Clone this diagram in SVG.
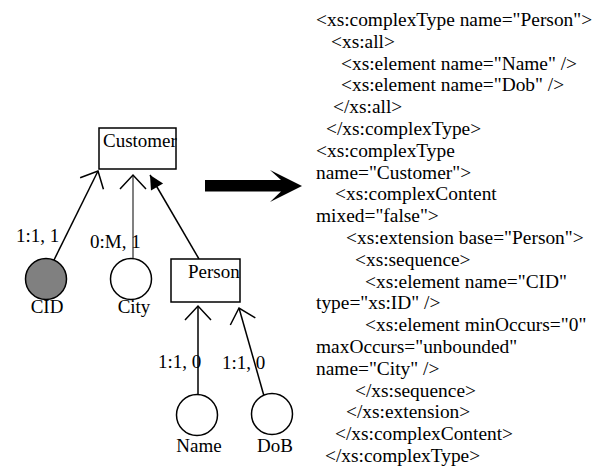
<svg xmlns="http://www.w3.org/2000/svg" width="602" height="470" viewBox="0 0 602 470">
<style>
text{font-family:"Liberation Serif","Times New Roman",serif;font-size:19px;fill:#000}
#xml text{font-size:19.4px}
.box{fill:#fff;stroke:#000;stroke-width:1.5}
.circ{fill:#fff;stroke:#000;stroke-width:1.5}
.edge{fill:none;stroke:#000;stroke-width:1.5}
.gray{stroke:#808080;stroke-width:2}
.mid{text-anchor:middle}
</style>
<defs>
<marker id="open" viewBox="-20 -16 24 32" markerWidth="24" markerHeight="32" refX="0" refY="0" orient="auto" markerUnits="userSpaceOnUse">
<path d="M-14,-13 L0,0 L-14,13" fill="none" stroke="#000" stroke-width="1.5"/>
</marker>
<marker id="tri" viewBox="-16 -10 18 20" markerWidth="18" markerHeight="20" refX="0" refY="0" orient="auto" markerUnits="userSpaceOnUse">
<path d="M0,0 L-14,-7 L-14,7 Z" fill="#000"/>
</marker>
</defs>
<g id="connectors">
<line class="edge" x1="53" y1="262" x2="98" y2="171" marker-end="url(#open)"/>
<line class="edge gray" x1="133" y1="258" x2="133" y2="175" marker-end="url(#open)"/>
<line class="edge" x1="199" y1="259" x2="150" y2="175" marker-end="url(#tri)"/>
<line class="edge" x1="198" y1="394" x2="198" y2="306" marker-end="url(#open)"/>
<line class="edge" x1="264" y1="396" x2="239" y2="308" marker-end="url(#open)"/>
</g>
<g id="customer">
<rect class="box" x="99" y="128" width="77" height="41"/>
<text x="103" y="147">Customer</text>
</g>
<g id="person">
<rect class="box" x="171" y="259" width="69" height="43"/>
<text x="188" y="278">Person</text>
</g>
<g id="cid">
<circle class="circ" cx="46" cy="279" r="20.5" style="fill:#808080"/>
<text class="mid" x="47" y="313">CID</text>
</g>
<g id="city">
<circle class="circ" cx="131" cy="279" r="20.5"/>
<text class="mid" x="134" y="313">City</text>
</g>
<g id="name">
<circle class="circ" cx="197" cy="415" r="20.5"/>
<text class="mid" x="199" y="452">Name</text>
</g>
<g id="dob">
<circle class="circ" cx="272" cy="414" r="20.5"/>
<text class="mid" x="275" y="452">DoB</text>
</g>
<g id="labels">
<text x="16" y="242">1:1, 1</text>
<text x="90" y="248">0:M, 1</text>
<text x="158" y="368">1:1, 0</text>
<text x="222" y="369">1:1, 0</text>
</g>
<g id="big-arrow">
<polygon points="205,180 281,180 270,170 302,186 270,202 281,191.5 205,191.5" fill="#000"/>
</g>
<g id="xml">
<text x="316" y="26">&lt;xs:complexType name="Person"&gt;</text>
<text x="331" y="47.8">&lt;xs:all&gt;</text>
<text x="341" y="69.6">&lt;xs:element name="Name" /&gt;</text>
<text x="341" y="91.4">&lt;xs:element name="Dob" /&gt;</text>
<text x="333" y="113.2">&lt;/xs:all&gt;</text>
<text x="326" y="135">&lt;/xs:complexType&gt;</text>
<text x="316" y="156.8">&lt;xs:complexType</text>
<text x="316" y="178.6">name="Customer"&gt;</text>
<text x="335" y="200.4">&lt;xs:complexContent</text>
<text x="316" y="222.2">mixed="false"&gt;</text>
<text x="346" y="244">&lt;xs:extension base="Person"&gt;</text>
<text x="355" y="265.8">&lt;xs:sequence&gt;</text>
<text x="365" y="287.6">&lt;xs:element name="CID"</text>
<text x="316" y="309.4">type="xs:ID" /&gt;</text>
<text x="365" y="331.2">&lt;xs:element minOccurs="0"</text>
<text x="316" y="353">maxOccurs="unbounded"</text>
<text x="316" y="374.8">name="City" /&gt;</text>
<text x="355" y="396.6">&lt;/xs:sequence&gt;</text>
<text x="346" y="418.4">&lt;/xs:extension&gt;</text>
<text x="335" y="440.2">&lt;/xs:complexContent&gt;</text>
<text x="325" y="462">&lt;/xs:complexType&gt;</text>
</g>
</svg>
